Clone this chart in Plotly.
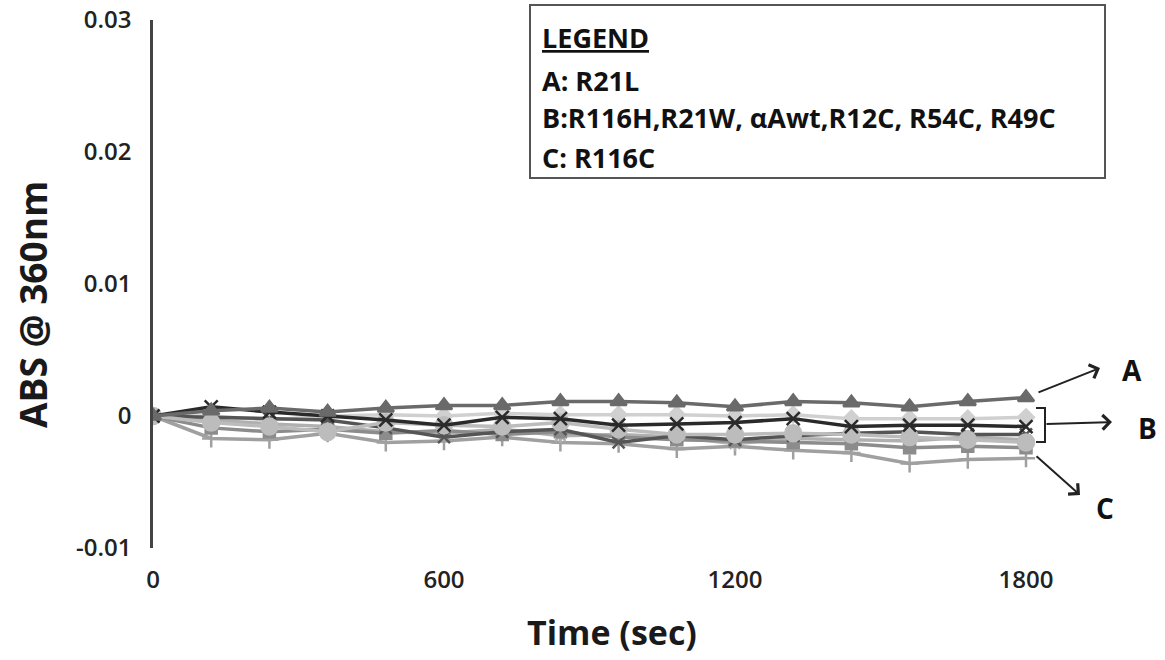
import plotly.graph_objects as go

time_sec = [0, 120, 240, 360, 480, 600, 720, 840, 960, 1080, 1200, 1320, 1440, 1560, 1680, 1800]

# absorbance values (units of 1e-3)
r21l  = [0.0, 0.4, 0.6, 0.3, 0.6, 0.8, 0.8, 1.1, 1.1, 1.0, 0.7, 1.1, 1.0, 0.7, 1.1, 1.4]
r116h = [0.0, 0.7, 0.3, 0.0, -0.3, -0.7, -0.1, -0.2, -0.7, -0.6, -0.5, -0.2, -0.8, -0.7, -0.7, -0.8]
r21w  = [0.0, -0.5, -0.8, -1.2, -0.5, -0.7, -0.8, -0.5, -1.0, -1.4, -1.4, -1.3, -1.4, -1.6, -1.8, -2.0]
aawt  = [0.0, -0.9, -1.2, -1.0, -1.3, -1.1, -1.4, -1.2, -1.6, -1.8, -1.9, -2.0, -2.1, -2.4, -2.3, -2.4]
r12c  = [0.0, -0.3, -0.6, -0.8, -1.2, -1.3, -1.0, -1.5, -1.4, -1.6, -2.1, -1.7, -1.8, -1.9, -1.6, -1.8]
r54c  = [0.0, -0.1, -0.2, -0.3, -0.9, -1.6, -1.2, -1.0, -2.0, -1.5, -1.8, -1.5, -1.3, -1.2, -1.4, -1.4]
r49c  = [0.0, 0.0, -0.3, 0.0, 0.1, 0.0, 0.2, 0.1, 0.1, 0.1, 0.0, 0.1, -0.2, -0.2, -0.2, -0.1]
r116c = [0.0, -1.7, -1.8, -1.3, -2.0, -1.9, -1.6, -2.0, -2.1, -2.5, -2.3, -2.6, -2.8, -3.6, -3.3, -3.2]

series = [
    ("R49C", r49c, "#d0d0d0", "diamond", 12),
    ("R116C", r116c, "#a0a0a0", "cross-thin", 13),
    ("R12C", r12c, "#b0b0b0", "asterisk", 12),
    ("αAwt", aawt, "#8c8c8c", "square", 11),
    ("R54C", r54c, "#555555", "x-thin", 12),
    ("R21W", r21w, "#bcbcbc", "circle", 16),
    ("R116H", r116h, "#2a2a2a", "x-thin", 13),
    ("R21L", r21l, "#6a6a6a", "triangle-up", 14),
]

y_ticks = [-0.01, 0, 0.01, 0.02, 0.03]
y_tick_labels = ["-0.01", "0", "0.01", "0.02", "0.03"]
x_ticks = [0, 600, 1200, 1800]

fig = go.Figure()
for name, vals, color, sym, size in series:
    fig.add_trace(go.Scatter(
        x=time_sec, y=[v * 0.001 for v in vals], name=name, mode="lines+markers",
        line=dict(color=color, width=3.5),
        marker=dict(symbol=sym, size=size, color=color,
                    line=dict(color=color, width=2.5)),
        showlegend=False))

W, H = 1165, 660
L, R, T, B = 153, 3, 20, 112
pw, ph = W - L - R, H - T - B


def px(xp):
    return (xp - L) / pw


def py(yp):
    return (H - B - yp) / ph


font = "Open Sans"
ann = []
ann.append(dict(x=px(32), y=py(305), xref="paper", yref="paper", text="<b>ABS @ 360nm</b>",
                textangle=-90, showarrow=False, xanchor="center", yanchor="middle",
                font=dict(family=font, size=37, color="#1a1a1a")))
ann.append(dict(x=px(612), y=py(632), xref="paper", yref="paper", text="<b>Time (sec)</b>",
                showarrow=False, xanchor="center", yanchor="middle",
                font=dict(family=font, size=34, color="#1a1a1a")))

# legend box text
legend_lines = [("LEGEND", 38), ("A: R21L", 80), ("B:R116H,R21W, αAwt,R12C, R54C, R49C", 118), ("C: R116C", 157)]
for i, (txt, yy) in enumerate(legend_lines):
    f = dict(family=font, size=27, color="#111111")
    if i == 0:
        f["lineposition"] = "under"
    ann.append(dict(x=px(540), y=py(yy), xref="paper", yref="paper", text="<b>" + txt + "</b>",
                    xanchor="left", yanchor="middle", showarrow=False, font=f))

# group labels
for txt, xx, yy in [("A", 1132, 370), ("B", 1147, 428), ("C", 1105, 508)]:
    ann.append(dict(x=px(xx), y=py(yy), xref="paper", yref="paper", text="<b>" + txt + "</b>",
                    xanchor="center", yanchor="middle",
                    showarrow=False, font=dict(family=font, size=28, color="#111111")))

# arrows
for (tx, ty, hx, hy) in [(1037, 393, 1100, 368), (1045, 424, 1112, 422), (1035, 455, 1080, 495)]:
    ann.append(dict(x=px(hx), y=py(hy), xref="paper", yref="paper", ax=tx - hx, ay=ty - hy,
                    axref="pixel", ayref="pixel", text="", showarrow=True, arrowhead=4,
                    arrowsize=1.4, arrowwidth=2, arrowcolor="#222222"))

shapes = [
    dict(type="rect", xref="paper", yref="paper", x0=px(530), x1=px(1105), y0=py(178), y1=py(5),
         line=dict(color="#555555", width=2), fillcolor="rgba(0,0,0,0)"),
    dict(type="path", xref="paper", yref="paper",
         path=f"M {px(1036)} {py(408)} L {px(1045)} {py(408)} L {px(1045)} {py(442)} L {px(1036)} {py(442)}",
         line=dict(color="#222222", width=2)),
]

fig.update_layout(
    width=W, height=H, margin=dict(l=L, r=R, t=T, b=B),
    paper_bgcolor="white", plot_bgcolor="white",
    annotations=ann, shapes=shapes,
    xaxis=dict(range=[0, pw / 0.485], tickvals=x_ticks, showgrid=False, zeroline=False,
               showline=False, ticks="outside", ticklen=10, tickcolor="rgba(0,0,0,0)",
               tickfont=dict(family=font, size=24, color="#222222", weight=600)),
    yaxis=dict(range=[-0.01, 0.03], tickvals=y_ticks, ticktext=y_tick_labels, showgrid=False,
               zeroline=False, showline=True, linecolor="#444444", linewidth=2.5,
               ticks="outside", ticklen=14, tickcolor="rgba(0,0,0,0)",
               tickfont=dict(family=font, size=24, color="#222222", weight=600)),
)

fig.write_html("out.html")
